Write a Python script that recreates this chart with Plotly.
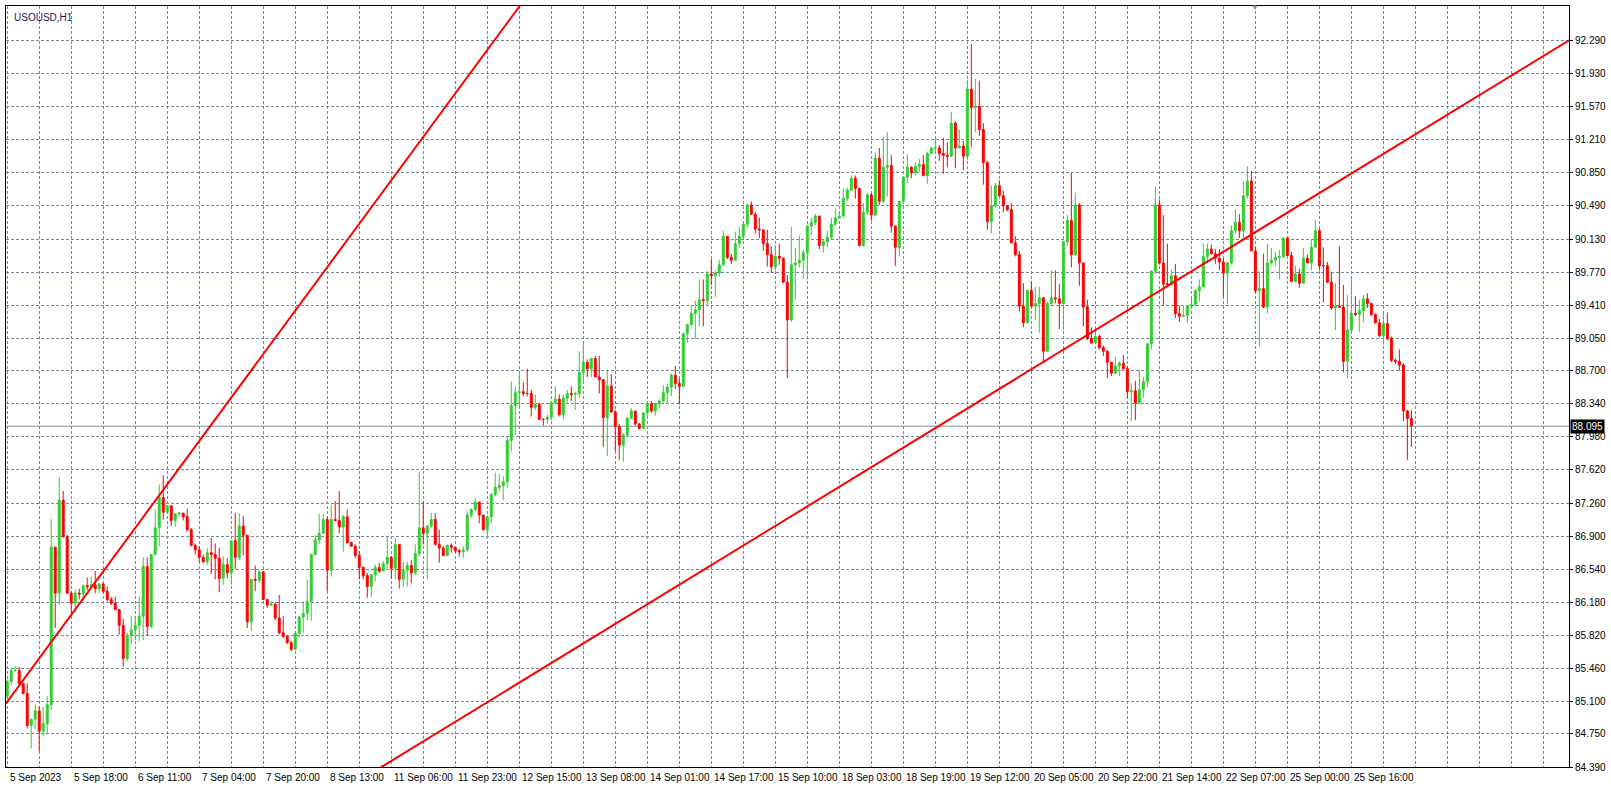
import plotly.graph_objects as go

first_open = 85.16
close = [85.32,85.44,85.44,85.30,85.19,84.84,84.91,85.00,84.78,84.86,85.07,86.78,86.28,87.29,86.89,86.28,86.17,86.28,86.27,86.36,
86.35,86.37,86.33,86.38,86.30,86.21,86.17,86.10,85.93,85.57,85.82,85.88,85.93,86.03,86.57,85.92,86.70,86.99,87.32,87.16,
87.23,87.07,87.14,87.15,87.11,86.97,86.80,86.75,86.67,86.62,86.72,86.70,86.66,86.44,86.59,86.50,86.85,86.67,87.01,86.91,
85.97,86.43,86.42,86.51,86.21,86.15,86.16,86.01,85.85,85.81,85.74,85.67,85.84,86.02,86.06,86.19,86.70,86.86,86.93,87.08,
86.53,87.08,87.07,87.00,87.11,86.83,86.79,86.69,86.56,86.47,86.35,86.48,86.56,86.52,86.60,86.67,86.55,86.81,86.43,86.53,
86.58,86.50,86.71,86.99,86.93,87.01,87.08,86.81,86.77,86.69,86.80,86.78,86.74,86.73,86.75,87.13,87.19,87.27,87.13,86.97,
87.11,87.35,87.43,87.45,87.49,87.94,88.32,88.46,88.47,88.45,88.45,88.30,88.33,88.17,88.17,88.19,88.35,88.39,88.22,88.40,
88.45,88.44,88.45,88.68,88.79,88.72,88.83,88.63,88.60,88.19,88.53,88.25,88.09,87.89,88.00,88.18,88.26,88.12,88.07,88.24,
88.34,88.26,88.34,88.37,88.46,88.52,88.65,88.56,88.53,89.10,89.20,89.32,89.36,89.47,89.46,89.75,89.73,89.76,89.85,90.16,
89.93,89.90,90.08,90.16,90.29,90.50,90.40,90.24,90.23,90.08,89.96,89.83,89.94,89.92,89.66,89.25,89.85,89.87,89.90,89.98,
90.27,90.31,90.38,90.06,90.10,90.15,90.29,90.36,90.38,90.57,90.66,90.79,90.68,90.06,90.42,90.61,90.39,91.01,90.54,90.91,
90.93,90.27,90.04,90.54,90.80,90.91,90.85,90.92,90.94,90.82,91.06,91.12,91.12,91.06,91.04,91.03,91.39,91.12,91.14,91.03,
91.76,91.56,91.57,91.32,90.96,90.32,90.49,90.71,90.60,90.49,90.45,90.09,89.96,89.40,89.22,89.57,89.40,89.43,89.49,88.91,
89.43,89.49,89.48,89.43,90.10,90.33,89.96,90.50,89.87,89.39,89.05,89.00,89.07,88.95,88.91,88.79,88.67,88.75,88.78,88.72,
88.47,88.48,88.35,88.49,88.58,88.99,89.78,90.50,89.87,89.64,89.64,89.73,89.32,89.29,89.30,89.40,89.42,89.57,89.61,89.94,
90.02,89.97,89.92,89.88,89.76,89.87,90.22,90.31,90.22,90.60,90.76,90.00,89.57,89.59,89.39,89.87,89.90,89.93,89.94,90.14,
89.95,89.67,89.75,89.65,89.92,89.87,90.04,90.22,89.84,89.84,89.66,89.38,89.40,89.39,88.80,89.14,89.32,89.31,89.35,89.48,
89.43,89.31,89.22,89.08,89.21,89.05,88.81,88.80,88.76,88.26,88.18,88.10]
high = [85.34,85.46,85.49,85.48,85.30,85.30,84.91,85.07,85.05,85.05,85.16,87.09,86.78,87.54,87.39,86.91,86.30,86.32,86.33,86.37,
86.45,86.46,86.52,86.39,86.39,86.35,86.24,86.24,86.11,86.00,85.85,86.03,86.03,86.25,86.67,86.67,86.70,87.19,87.46,87.56,
87.24,87.23,87.15,87.16,87.15,87.20,86.99,86.82,86.79,86.70,86.77,86.88,86.82,86.77,86.68,86.66,86.85,87.15,87.15,87.12,
86.91,86.43,86.58,86.53,86.52,86.22,86.19,86.18,86.26,86.03,85.82,85.76,85.86,86.03,86.19,86.43,86.71,86.91,87.14,87.14,
87.11,87.24,87.28,87.39,87.13,87.19,86.84,86.81,86.74,86.57,86.50,86.48,86.59,86.61,86.63,86.89,86.68,86.88,86.81,86.62,
86.62,86.64,86.81,87.60,87.28,87.02,87.15,87.15,86.97,86.79,86.81,86.82,86.78,86.76,86.79,87.17,87.20,87.31,87.27,87.13,
87.13,87.37,87.59,87.57,87.55,87.98,88.58,88.53,88.67,88.57,88.72,88.49,88.44,88.35,88.17,88.22,88.36,88.53,88.44,88.44,
88.49,88.53,88.47,88.91,88.99,88.82,88.83,88.86,88.86,88.60,88.71,88.66,88.27,88.12,88.02,88.19,88.29,88.17,88.13,88.24,
88.36,88.37,88.35,88.39,88.54,88.56,88.67,88.75,88.61,89.11,89.21,89.41,89.46,89.69,89.69,89.78,89.91,89.79,89.90,90.22,
90.09,89.97,90.21,90.26,90.31,90.52,90.54,90.42,90.36,90.23,90.23,90.05,90.06,90.08,89.93,89.74,90.26,90.03,90.17,90.01,
90.28,90.36,90.40,90.28,90.12,90.22,90.36,90.46,90.42,90.68,90.69,90.82,90.82,90.69,90.52,90.63,90.63,91.07,91.12,91.24,
91.29,91.04,90.27,90.54,90.81,91.05,90.92,90.96,91.00,91.04,91.08,91.13,91.22,91.15,91.23,91.18,91.51,91.41,91.32,91.20,
91.86,92.25,91.87,91.85,91.39,90.98,90.71,90.74,90.77,90.65,90.50,90.52,90.16,90.00,89.65,89.58,89.67,89.61,89.61,89.50,
89.45,89.79,89.79,89.64,90.10,90.39,90.85,90.63,90.52,89.87,89.47,89.17,89.14,89.09,88.97,88.92,88.79,88.85,88.80,88.87,
88.75,88.56,88.59,88.71,88.63,89.00,89.79,90.70,90.56,90.39,90.08,89.79,89.86,89.41,89.40,89.41,89.50,89.58,89.69,90.08,
90.08,90.07,90.02,90.02,89.92,89.88,90.28,90.45,90.40,90.76,90.92,90.87,90.04,89.78,89.97,90.08,90.03,89.99,90.01,90.15,
90.15,89.99,89.84,89.81,90.03,89.96,90.13,90.34,90.24,90.04,89.88,89.77,89.65,90.05,89.63,89.52,89.72,89.51,89.47,89.52,
89.54,89.38,89.32,89.26,89.32,89.33,89.07,88.83,88.93,88.78,88.27,88.27]
low = [85.14,85.28,85.42,85.28,85.18,84.81,84.59,84.80,84.56,84.72,84.74,85.01,85.90,86.15,86.89,86.28,86.06,86.07,86.21,86.21,
86.31,86.35,86.28,86.28,86.28,86.19,86.15,86.10,85.83,85.48,85.54,85.72,85.77,85.76,85.77,85.82,85.90,86.70,86.79,87.08,
87.15,87.01,87.00,87.11,87.07,86.95,86.79,86.70,86.62,86.61,86.59,86.49,86.43,86.29,86.37,86.44,86.37,86.54,86.64,86.69,
85.90,85.87,86.30,86.39,86.21,86.12,86.14,85.99,85.83,85.79,85.73,85.65,85.66,85.80,85.85,85.99,85.98,86.69,86.81,86.93,
86.30,86.46,87.06,86.93,86.73,86.82,86.79,86.66,86.43,86.43,86.23,86.24,86.41,86.50,86.52,86.55,86.44,86.43,86.33,86.35,
86.35,86.39,86.48,86.68,86.81,86.43,86.99,86.80,86.61,86.68,86.68,86.72,86.72,86.68,86.66,86.73,87.10,87.17,87.04,86.96,
86.89,87.04,87.33,87.39,87.29,87.42,87.82,88.00,88.31,88.42,88.42,88.20,88.27,88.16,88.10,88.12,88.16,88.33,88.20,88.17,
88.35,88.37,88.27,88.40,88.56,88.63,88.63,88.63,88.45,87.87,87.77,88.24,87.82,87.73,87.71,87.98,88.17,88.10,88.06,88.06,
88.20,88.24,88.21,88.29,88.35,88.35,88.42,88.50,88.33,88.52,89.00,89.18,89.04,89.18,89.18,89.40,89.63,89.50,89.72,89.83,
89.91,89.86,89.90,90.03,90.14,90.26,90.39,90.19,90.14,90.00,89.83,89.76,89.79,89.85,89.65,88.62,89.23,89.47,89.82,89.70,
89.69,90.17,90.28,90.02,89.98,90.04,90.12,90.27,90.35,90.37,90.54,90.65,90.57,90.05,90.05,90.39,90.33,90.38,90.50,90.52,
90.59,90.20,89.84,89.94,90.53,90.74,90.79,90.82,90.86,90.81,90.73,91.05,91.05,90.98,90.84,90.91,91.02,90.90,91.12,90.88,
90.99,91.13,91.29,91.25,90.72,90.23,90.19,90.47,90.59,90.42,90.43,90.08,89.94,89.34,89.17,89.22,89.39,89.25,89.11,88.78,
88.91,89.40,89.43,89.15,89.14,90.05,89.82,89.95,89.62,89.18,89.03,88.99,89.03,88.93,88.86,88.62,88.64,88.66,88.64,88.71,
88.40,88.15,88.16,88.34,88.40,88.52,88.93,89.75,89.85,89.41,89.62,89.62,89.27,89.23,89.29,89.22,89.40,89.40,89.45,89.61,
89.87,89.96,89.86,89.79,89.50,89.42,89.85,90.19,90.14,90.12,90.57,90.00,89.54,88.96,89.38,89.32,89.85,89.84,89.69,89.92,
89.95,89.66,89.66,89.60,89.66,89.87,89.79,90.03,89.79,89.44,89.65,89.36,89.14,89.38,88.68,88.62,89.12,89.29,89.12,89.23,
89.38,89.29,89.21,89.06,88.98,89.03,88.79,88.77,88.70,88.15,87.73,87.87]

opens = [first_open] + close[:-1]
high = [max(h, o, c) for h, o, c in zip(high, opens, close)]
low = [min(l, o, c) for l, o, c in zip(low, opens, close)]
bars = list(range(len(close)))

price_ticks = [84.390,84.750,85.100,85.460,85.820,86.180,86.540,86.900,87.260,87.620,87.980,88.340,88.700,
               89.050,89.410,89.770,90.130,90.490,90.850,91.210,91.570,91.930,92.290]
time_labels = ["5 Sep 2023","5 Sep 18:00","6 Sep 11:00","7 Sep 04:00","7 Sep 20:00","8 Sep 13:00",
               "11 Sep 06:00","11 Sep 23:00","12 Sep 15:00","13 Sep 08:00","14 Sep 01:00","14 Sep 17:00",
               "15 Sep 10:00","18 Sep 03:00","18 Sep 19:00","19 Sep 12:00","20 Sep 05:00","20 Sep 22:00",
               "21 Sep 14:00","22 Sep 07:00","25 Sep 00:00","25 Sep 16:00"]
label_bars = [16 * k for k in range(len(time_labels))]
last_price = 88.095
trend1 = [(0, 85.10), (51.9, 88.164)]
trend2 = [(263.2, 88.905), (390.4, 92.29)]

X0, X1 = -0.3, 390.4
Y0, Y1 = 84.39, 92.663
grid = "#778899"
FONT = "Liberation Sans"

fig = go.Figure(go.Candlestick(
    x=bars, open=opens, high=high, low=low, close=close,
    increasing=dict(line=dict(color="#32CD32", width=1), fillcolor="#32CD32"),
    decreasing=dict(line=dict(color="#FF0000", width=1), fillcolor="#FF0000"),
    whiskerwidth=0, hoverinfo="skip"))

def line_between(p, q, xa, xb):
    s = (q[1] - p[1]) / (q[0] - p[0])
    return dict(type="line", x0=xa, y0=p[1] + s * (xa - p[0]), x1=xb, y1=p[1] + s * (xb - p[0]),
                xref="x", yref="y", line=dict(color="#FF0000", width=2), layer="above")

shapes = [line_between(trend1[0], trend1[1], X0, 140),
          line_between(trend2[0], trend2[1], 80, X1),
          dict(type="line", x0=X0, x1=X1, y0=last_price, y1=last_price, xref="x", yref="y",
               line=dict(color="#8090a0", width=1), layer="below")]

annotations = [dict(x=b, y=0, xref="x", yref="paper", text=t, showarrow=False, xanchor="left",
                    yanchor="top", xshift=1, yshift=-3, font=dict(size=10, color="black", family=FONT))
               for b, t in zip(label_bars, time_labels)]
annotations.append(dict(x=1, y=last_price, xref="paper", yref="y", text="88.095", showarrow=False,
                        xanchor="left", yanchor="middle", xshift=1, bgcolor="black",
                        font=dict(size=10, color="white", family=FONT), borderpad=1))
annotations.append(dict(x=0.004, y=0.995, xref="paper", yref="paper", text="USOUSD,H1", showarrow=False,
                        xanchor="left", yanchor="top", font=dict(size=10, color="#1a1a50", family=FONT)))
annotations.append(dict(x=312, y=1, xref="x", yref="paper", text="▼", showarrow=False, yanchor="middle",
                        font=dict(size=8, color="#8090a0")))

fig.update_layout(
    width=1611, height=788, margin=dict(l=6, r=42, t=6, b=21),
    paper_bgcolor="white", plot_bgcolor="white", showlegend=False,
    shapes=shapes, annotations=annotations,
    xaxis=dict(range=[X0, X1], rangeslider=dict(visible=False), tick0=0, dtick=8,
               showgrid=True, gridcolor=grid, griddash="3px,2px", gridwidth=1,
               showticklabels=False, ticks="", zeroline=False,
               showline=True, mirror=True, linecolor="black", linewidth=1),
    yaxis=dict(range=[Y0, Y1], side="right", tickvals=price_ticks, tickformat=".3f",
               showgrid=True, gridcolor=grid, griddash="3px,2px", gridwidth=1,
               ticks="outside", ticklen=3, tickcolor="black", zeroline=False, automargin=False,
               tickfont=dict(size=10, color="black", family=FONT),
               showline=True, mirror=True, linecolor="black", linewidth=1),
)
fig.write_html("out.html", config={"displayModeBar": False})

with open("out.html", encoding="utf-8") as f:
    html = f.read()
html = html.replace("<head>", "<head><style>html,body{margin:0;padding:0;overflow:hidden}</style>", 1)
with open("out.html", "w", encoding="utf-8") as f:
    f.write(html)
